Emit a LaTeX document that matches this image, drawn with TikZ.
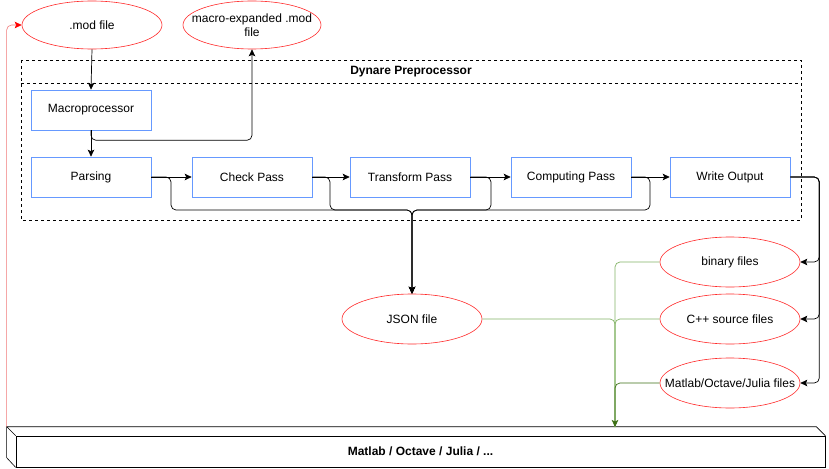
\documentclass[tikz,border=0pt]{standalone}
\usepackage{fontspec}
\setmainfont{Liberation Sans}
\usetikzlibrary{shapes.geometric,arrows.meta,calc}
\definecolor{boxblue}{RGB}{102,153,255}
\definecolor{ellred}{RGB}{255,40,40}
\definecolor{lgreen}{RGB}{130,179,102}
\definecolor{dgreen}{RGB}{60,110,20}
\definecolor{lred}{RGB}{240,120,120}
\tikzset{
  every node/.style={font=\fontsize{12}{14}\selectfont},
  stepbox/.style={draw=boxblue, line width=0.6pt, rectangle, minimum width=120pt, minimum height=40pt, inner sep=0pt},
  fileell/.style={draw=ellred, line width=0.6pt, ellipse, minimum width=140pt, minimum height=50pt, inner sep=0pt},
  tip/.style={-{Stealth[length=7pt,width=6.5pt,inset=1.5pt]}},
  edge/.style={draw=black, line width=0.7pt, rounded corners=5pt},
  gedge/.style={draw=lgreen, line width=0.7pt, rounded corners=5pt},
  redge/.style={draw=lred, line width=0.6pt, rounded corners=5pt},
}
\begin{document}
\begin{tikzpicture}[x=1pt,y=-1pt]
\useasboundingbox (0,0) rectangle (829,468);
% container
\draw[dashed, line width=0.6pt] (21,60) rectangle (801,220);
\draw[dashed, line width=0.6pt] (21,83) -- (801,83);
\node[font=\bfseries\fontsize{12}{14}\selectfont] (title) at (411,72) {Dynare Preprocessor};
% files
\node[fileell, minimum height=48pt, label={center:.mod file}] (modfile) at (92,25) {};
\node[fileell, minimum width=138pt, minimum height=48pt, label={[align=center]center:macro-expanded .mod\\file}] (macroexp) at (252,25) {};
\node[fileell, label={center:JSON file}] (json) at (412,319) {};
\node[fileell, label={center:binary files}] (binary) at (730,262) {};
\node[fileell, label={center:C++ source files}] (cpp) at (730,319) {};
\node[fileell, label={center:Matlab/Octave/Julia files}] (mfiles) at (730,383) {};
% steps
\node[stepbox] (macro) at (91,110) {Macroprocessor};
\node[stepbox] (parsing) at (91,177) {Parsing};
\node[stepbox] (check) at (252,177) {Check Pass};
\node[stepbox] (transform) at (410,177) {Transform Pass};
\node[stepbox] (computing) at (571,177) {Computing Pass};
\node[stepbox] (write) at (730,177) {Write Output};
% bottom 3D box
\node[draw, line width=0.7pt, minimum width=809pt, minimum height=31pt, inner sep=0pt,
      font=\bfseries\fontsize{12}{14}\selectfont] (mlab) at (420.5,451.5) {Matlab / Octave / Julia / ...};
\coordinate (bnw) at ($(mlab.north west)+(-9,-9)$);
\coordinate (bne) at ($(mlab.north east)+(-9,-9)$);
\draw[line width=0.7pt] (mlab.north west) -- (bnw) -- (bne) -- (mlab.north east);
\draw[line width=0.6pt] (bnw) -- ++(0,31) -- (mlab.south west);
\coordinate (gin) at (615,427);
% connectors
\draw[edge, tip] (modfile.south) -- (macro.north);
\draw[edge, tip] (macro.south) -- (parsing.north);
\draw[edge, tip] (macro.south) -- ++(0,10) -| (macroexp.south);
\draw[edge, tip] (parsing.east) -- (check.west);
\draw[edge, tip] (check.east) -- (transform.west);
\draw[edge, tip] (transform.east) -- (computing.west);
\draw[edge, tip] (computing.east) -- (write.west);
\draw[edge, tip] (parsing.east) -| (171,210) -| (json.north);
\draw[edge, tip] (check.east) -| (330,210) -| (json.north);
\draw[edge, tip] (transform.east) -| (491,210) -| (json.north);
\draw[edge, tip] (computing.east) -| (650,210) -| (json.north);
\draw[edge, tip] (write.east) -| ([xshift=19pt]binary.east) -- (binary.east);
\draw[edge, tip] (write.east) -| ([xshift=19pt]cpp.east) -- (cpp.east);
\draw[edge, tip] (write.east) -| ([xshift=19pt]mfiles.east) -- (mfiles.east);
\draw[gedge] (binary.west) -| (gin);
\draw[gedge] (cpp.west) -| (gin);
\draw[gedge] (json.east) -| (gin);
\draw[gedge, draw=dgreen, -{Stealth[length=7pt,width=6.5pt,inset=1.5pt,fill=dgreen]}] (mfiles.west) -| (gin);
\draw[redge, -{Stealth[length=7pt,width=6.5pt,inset=1.5pt,fill=red,color=red]}] (bnw) |- (modfile.west);
\end{tikzpicture}
\end{document}
